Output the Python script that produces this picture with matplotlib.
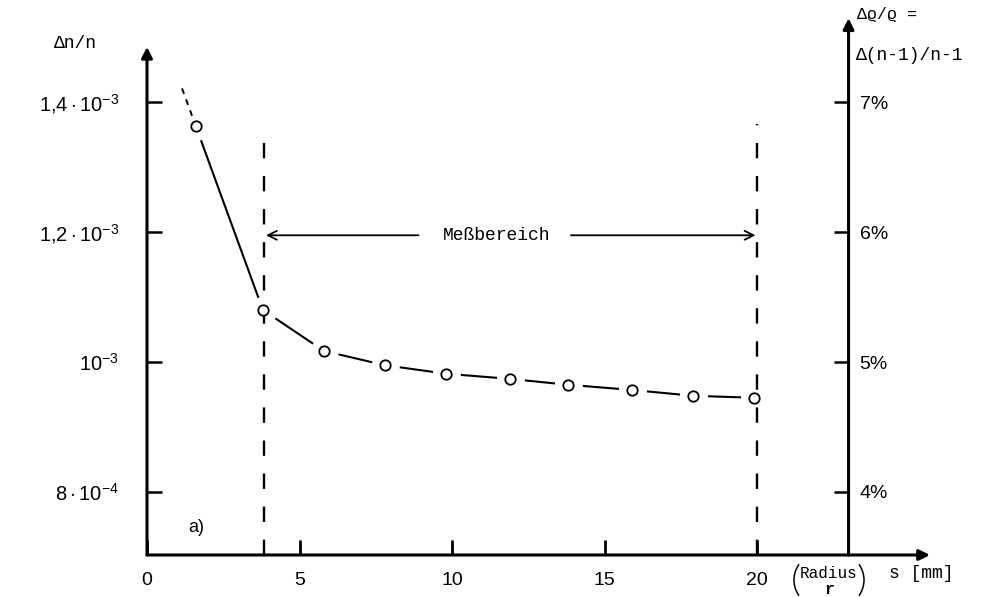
import matplotlib
matplotlib.use("Agg")
import matplotlib.pyplot as plt
from matplotlib.patches import Arc
import numpy as np

# Measured relative refractive-index deviation vs. position s (Radius r)
s_mm = [1.6, 3.8, 5.8, 7.8, 9.8, 11.9, 13.8, 15.9, 17.9, 19.9]
dn_n = [1.363e-3, 1.080e-3, 1.017e-3, 0.995e-3, 0.982e-3,
        0.974e-3, 0.965e-3, 0.957e-3, 0.948e-3, 0.945e-3]

x_ticks = [0, 5, 10, 15, 20]
x_ticklabels = ["0", "5", "10", "15", "20"]
y_ticks = [0.8e-3, 1.0e-3, 1.2e-3, 1.4e-3]
y_ticklabels = [r"$8\cdot10^{-4}$", r"$10^{-3}$",
                r"$1{,}2\cdot10^{-3}$", r"$1{,}4\cdot10^{-3}$"]
pct_ticks = [4, 5, 6, 7]
pct_labels = ["4%", "5%", "6%", "7%"]
pct_per_unit = 5000.0          # Δn/n  ->  Δϱ/ϱ in %

range_limits = [3.85, 20.0]    # Meßbereich boundaries (mm)
range_tops = [1.338e-3, 1.366e-3]
right_axis_s = 23.0

MONO = "Liberation Mono"
SANS = "Liberation Sans"
plt.rcParams["mathtext.fontset"] = "custom"
plt.rcParams["mathtext.rm"] = SANS
plt.rcParams["mathtext.it"] = SANS
plt.rcParams["font.family"] = [SANS, "DejaVu Sans"]

fig = plt.figure(figsize=(9.94, 5.97), dpi=100)
ax = fig.add_axes([147 / 994, 42 / 597, 783 / 994, 540 / 597])
ax.set_xlim(0, 25.67)
ax.set_ylim(0.703e-3, 1.534e-3)
for sp in ax.spines.values():
    sp.set_visible(False)

# axes drawn as arrows
y0, y1 = ax.get_ylim()
x0, x1 = ax.get_xlim()
arrow_kw = dict(arrowstyle="-|>", lw=2.2, color="k",
                mutation_scale=16, shrinkA=0, shrinkB=0)
ax.annotate("", xy=(0, 1.485e-3), xytext=(0, y0), arrowprops=arrow_kw)
ax.annotate("", xy=(x1, y0), xytext=(0, y0), arrowprops=arrow_kw)
ax.annotate("", xy=(right_axis_s, y1 - 0.005e-3), xytext=(right_axis_s, y0),
            arrowprops=arrow_kw)

ax.set_xticks(x_ticks)
ax.set_xticklabels(x_ticklabels, fontsize=14)
ax.set_yticks(y_ticks)
ax.set_yticklabels(y_ticklabels, fontsize=14.5)
ax.tick_params(axis="x", direction="in", length=11, width=2, pad=12)
ax.tick_params(axis="y", direction="in", length=11, width=1.8, pad=20)

# right-hand percentage axis
ax2 = ax.twinx()
ax2.set_ylim(y0 * pct_per_unit, y1 * pct_per_unit)
for sp in ax2.spines.values():
    sp.set_visible(False)
ax2.spines["right"].set_position(("data", right_axis_s))
ax2.set_yticks(pct_ticks)
ax2.set_yticklabels(pct_labels, fontsize=14)
ax2.tick_params(axis="y", direction="in", length=11, width=1.8, pad=8)

# measured points
ax.plot(s_mm, dn_n, "o", ms=7.5, mfc="white", mec="k", mew=1.3, zorder=5)

# curve through the points, broken at each marker
to_disp = ax.transData.transform
to_data = ax.transData.inverted().transform
for i in range(len(s_mm) - 1):
    p = to_disp((s_mm[i], dn_n[i]))
    q = to_disp((s_mm[i + 1], dn_n[i + 1]))
    d = q - p
    u = d / np.hypot(*d)
    a = to_data(p + u * 15)
    b = to_data(q - u * 13)
    ax.plot([a[0], b[0]], [a[1], b[1]], color="k", lw=1.5,
            solid_capstyle="butt")

# extrapolated beginning of the curve (dotted)
p = to_disp((s_mm[0], dn_n[0]))
q = to_disp((s_mm[1], dn_n[1]))
u = (p - q) / np.hypot(*(p - q))
a = to_data(p + u * 11)
b = to_data(p + u * 42)
ax.plot([a[0], b[0]], [a[1], b[1]], color="k", lw=1.4,
        linestyle=(0, (3, 3)))

# boundaries of the measuring range
for xs, top in zip(range_limits, range_tops):
    ax.plot([xs, xs], [y0, top], color="k", lw=1.7,
            linestyle=(0, (6.5, 7.5)))

arrow_y = 1.195e-3
ax.text(11.45, arrow_y, "Meßbereich", fontsize=13, family=MONO,
        ha="center", va="center")
thin_arrow = dict(arrowstyle="->", lw=1.3, color="k",
                  mutation_scale=16, shrinkA=0, shrinkB=0)
ax.annotate("", xy=(range_limits[0] + 0.05, arrow_y), xytext=(8.9, arrow_y),
            arrowprops=thin_arrow)
ax.annotate("", xy=(range_limits[1] - 0.05, arrow_y), xytext=(13.9, arrow_y),
            arrowprops=thin_arrow)

# labels
fig.text(75 / 994, 1 - 43 / 597, "Δn/n", fontsize=13, family=MONO,
         ha="center", va="center")
fig.text(887 / 994, 1 - 14 / 597, "Δϱ/ϱ =", fontsize=12,
         family=[MONO, "DejaVu Sans"], ha="center", va="center")
fig.text(910 / 994, 1 - 56 / 597, "Δ(n-1)/n-1", fontsize=13, family=MONO,
         ha="center", va="center")
fig.text(196 / 994, 1 - 527 / 597, "a)", fontsize=13, family=SANS,
         ha="center", va="center")

fig.text(829 / 994, 1 - 573 / 597, "Radius", fontsize=11.5, family=MONO,
         ha="center", va="center")
fig.text(829 / 994, 1 - 589 / 597, "r", fontsize=12, family=MONO,
         weight="bold", ha="center", va="center")
fig.text(921 / 994, 1 - 573 / 597, "s [mm]", fontsize=13, family=MONO,
         ha="center", va="center")

# large parentheses around "Radius r", drawn as thin arcs
W, H = fig.bbox.width, fig.bbox.height
for cx, t1, t2 in [(821, 130, 230), (837, -50, 50)]:
    fig.add_artist(Arc((cx / W, 1 - 580 / H), 2 * 27 / W, 2 * 27 / H,
                       theta1=t1, theta2=t2, transform=fig.transFigure,
                       lw=1.1, color="k"))

fig.savefig("out.png", dpi=100, facecolor="white")
